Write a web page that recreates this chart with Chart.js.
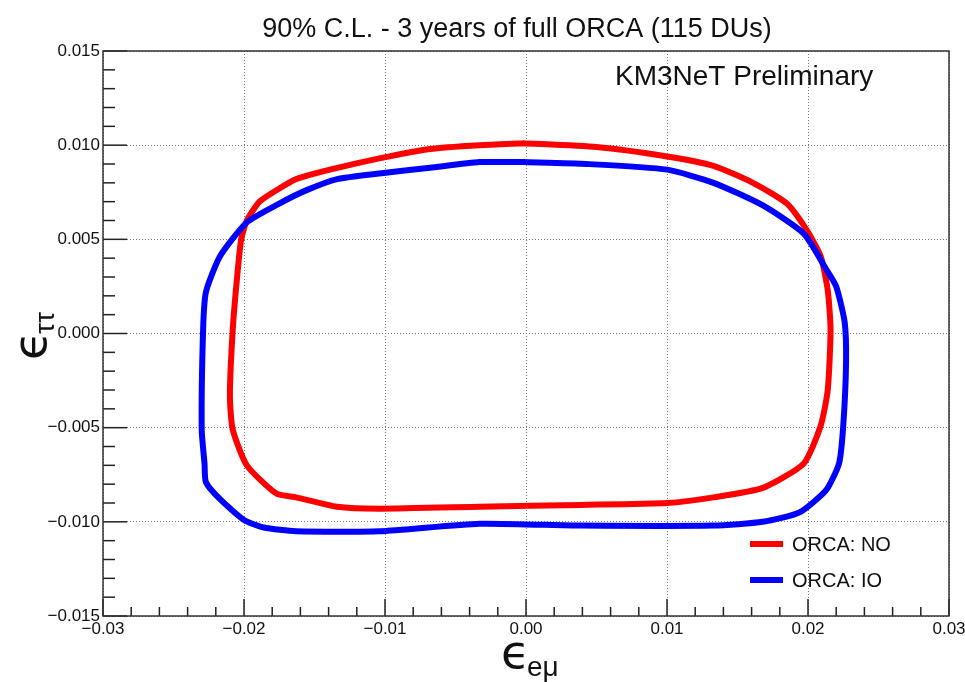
<!DOCTYPE html>
<html>
<head>
<meta charset="utf-8">
<script src="https://cdn.jsdelivr.net/npm/chart.js@4/dist/chart.umd.min.js"></script>
<style>
  html, body { margin: 0; padding: 0; background: #fff; }
  #wrap { width: 965px; height: 682px; }
</style>
</head>
<body>
<div id="wrap"><canvas id="c" width="965" height="682"></canvas></div>
<script>
// 90% C.L. contours in the (eps_emu, eps_tautau) plane, 3 years of full ORCA
const chartTitle = '90% C.L. - 3 years of full ORCA (115 DUs)';
const watermark = 'KM3NeT Preliminary';
const seriesLabels = ['ORCA: NO', 'ORCA: IO'];

// Normal ordering contour (closed, clockwise from the top)
const noX = [-0.0002, 0.0050, 0.0100, 0.0133, 0.0161, 0.0185, 0.0199, 0.0209, 0.0214, 0.0216,
             0.0214, 0.0209, 0.0197, 0.0168, 0.0133, 0.0100, 0.0039, -0.0033, -0.0104, -0.0134,
             -0.0163, -0.0177, -0.0198, -0.0208, -0.0210, -0.0208, -0.0205, -0.0202, -0.0198, -0.0189,
             -0.0175, -0.0163, -0.0139, -0.0104, -0.0068, -0.0033, -0.0002];
const noY = [0.0101, 0.0099, 0.0094, 0.0089, 0.0080, 0.0069, 0.0055, 0.0041, 0.0023, 0.0002,
             -0.0030, -0.0049, -0.0069, -0.0082, -0.0087, -0.0090, -0.0091, -0.0092, -0.0093, -0.0092,
             -0.0087, -0.0085, -0.0070, -0.0051, -0.0033, 0.0002, 0.0029, 0.0050, 0.0060, 0.0070,
             0.0077, 0.0082, 0.0087, 0.0093, 0.0098, 0.0100, 0.0101];

// Inverted ordering contour (closed, clockwise from the top)
const ioX = [-0.0002, 0.0043, 0.0100, 0.0133, 0.0168, 0.0197, 0.0213, 0.0220, 0.0226, 0.0227,
             0.0225, 0.0222, 0.0213, 0.0194, 0.0168, 0.0133, 0.0039, -0.0033, -0.0104, -0.0163,
             -0.0186, -0.0200, -0.0217, -0.0227, -0.0228, -0.0230, -0.0229, -0.0227, -0.0217, -0.0198,
             -0.0175, -0.0156, -0.0134, -0.0104, -0.0068, -0.0033, -0.0002];
const ioY = [0.0091, 0.0090, 0.0087, 0.0080, 0.0068, 0.0053, 0.0034, 0.0025, 0.0006, -0.0015,
             -0.0049, -0.0069, -0.0083, -0.0095, -0.0100, -0.0102, -0.0102, -0.0101, -0.0105, -0.0105,
             -0.0103, -0.0099, -0.0088, -0.0079, -0.0069, -0.0051, 0.0002, 0.0022, 0.0041, 0.0059,
             0.0069, 0.0076, 0.0082, 0.0085, 0.0088, 0.0091, 0.0091];

// Axis ranges and tick spacing
const xRange = [-0.03, 0.03];
const yRange = [-0.015, 0.015];
const xMajor = 0.01, xMinor = 0.002;
const yMajor = 0.005, yMinor = 0.001;

const FONT = '"Liberation Sans", Arial, Helvetica, sans-serif';
const toPoints = (xs, ys) => xs.map((x, i) => ({ x: x, y: ys[i] }));
const fmt = (v, d) => {
  if (Math.abs(v) < 1e-9) v = 0;
  const s = v.toFixed(d);
  return s.charAt(0) === '-' ? '\u2212' + s.slice(1) : s;
};

// Frame, inward ticks, titles and legend drawn on top of the chart
const decorations = {
  id: 'decorations',
  afterDraw(chart) {
    const ctx = chart.ctx;
    const a = chart.chartArea;
    const xs = chart.scales.x, ys = chart.scales.y;
    ctx.save();

    // inward tick marks on the bottom and left axes
    ctx.strokeStyle = '#222';
    ctx.lineWidth = 1.5;
    const nx = Math.round((xRange[1] - xRange[0]) / xMinor);
    for (let i = 0; i <= nx; i++) {
      const v = xRange[0] + i * xMinor;
      const px = xs.getPixelForValue(v);
      const len = (i % 5 === 0) ? 17 : 9;
      ctx.beginPath(); ctx.moveTo(px, a.bottom); ctx.lineTo(px, a.bottom - len); ctx.stroke();
    }
    const ny = Math.round((yRange[1] - yRange[0]) / yMinor);
    for (let i = 0; i <= ny; i++) {
      const v = yRange[0] + i * yMinor;
      const py = ys.getPixelForValue(v);
      const len = (i % 5 === 0) ? 24 : 12;
      ctx.beginPath(); ctx.moveTo(a.left, py); ctx.lineTo(a.left + len, py); ctx.stroke();
    }

    // frame
    ctx.strokeStyle = '#333';
    ctx.lineWidth = 1.5;
    ctx.strokeRect(a.left, a.top, a.right - a.left, a.bottom - a.top);

    // title
    ctx.fillStyle = '#111';
    ctx.font = '27px ' + FONT;
    ctx.textAlign = 'center';
    ctx.textBaseline = 'alphabetic';
    ctx.fillText(chartTitle, 517, 37);

    // watermark
    ctx.font = '28px ' + FONT;
    ctx.textAlign = 'left';
    ctx.fillText(watermark, 615, 85);

    // x axis title: eps_{e mu}
    ctx.font = '47px "DejaVu Sans", ' + FONT;
    ctx.fillText('\u03F5', 501, 668);
    const ew = ctx.measureText('\u03F5').width;
    ctx.font = '28px ' + FONT;
    ctx.fillText('e\u03BC', 501 + ew - 3, 676);

    // y axis title: eps_{tau tau}
    ctx.save();
    ctx.translate(46, 360);
    ctx.rotate(-Math.PI / 2);
    ctx.font = '47px "DejaVu Sans", ' + FONT;
    ctx.fillText('\u03F5', 0, 0);
    const ew2 = ctx.measureText('\u03F5').width;
    ctx.font = '28px ' + FONT;
    ctx.fillText('\u03C4\u03C4', ew2 - 3, 8);
    ctx.restore();

    // legend
    const legendY = [544, 580];
    chart.data.datasets.forEach((ds, i) => {
      const y = legendY[i];
      ctx.strokeStyle = ds.borderColor;
      ctx.lineWidth = 6;
      ctx.lineCap = 'butt';
      ctx.beginPath(); ctx.moveTo(750, y); ctx.lineTo(783, y); ctx.stroke();
      ctx.fillStyle = '#111';
      ctx.font = '20px ' + FONT;
      ctx.textAlign = 'left';
      ctx.textBaseline = 'middle';
      ctx.fillText(ds.label, 792, y + 1);
    });

    ctx.restore();
  }
};

new Chart(document.getElementById('c'), {
  type: 'scatter',
  data: {
    datasets: [
      { label: seriesLabels[0], data: toPoints(noX, noY), borderColor: '#ff0000',
        showLine: true, borderWidth: 6, pointRadius: 0, tension: 0.2, order: 1,
        borderJoinStyle: 'round', borderCapStyle: 'round' },
      { label: seriesLabels[1], data: toPoints(ioX, ioY), borderColor: '#0000ff',
        showLine: true, borderWidth: 6, pointRadius: 0, tension: 0.2, order: 0,
        borderJoinStyle: 'round', borderCapStyle: 'round' }
    ]
  },
  options: {
    responsive: false,
    animation: false,
    devicePixelRatio: 1,
    layout: { padding: { top: 51, right: 16, left: 0, bottom: 0 } },
    plugins: { legend: { display: false }, tooltip: { enabled: false }, title: { display: false } },
    scales: {
      x: {
        type: 'linear', min: xRange[0], max: xRange[1],
        ticks: { stepSize: xMajor, padding: 3, color: '#111', font: { family: FONT, size: 17 },
                 maxRotation: 0, callback: v => fmt(v, 2) },
        grid: { drawTicks: false, color: '#777', lineWidth: 1 },
        border: { display: false, dash: [1, 2] },
        afterFit: s => { s.height = 66; s.paddingLeft = 0; s.paddingRight = 0; }
      },
      y: {
        type: 'linear', min: yRange[0], max: yRange[1],
        ticks: { stepSize: yMajor, padding: 3, color: '#111', font: { family: FONT, size: 17 },
                 callback: v => fmt(v, 3) },
        grid: { drawTicks: false, color: '#777', lineWidth: 1 },
        border: { display: false, dash: [1, 2] },
        afterFit: s => { s.width = 103; s.paddingTop = 0; s.paddingBottom = 0; }
      }
    }
  },
  plugins: [decorations]
});
</script>
</body>
</html>
